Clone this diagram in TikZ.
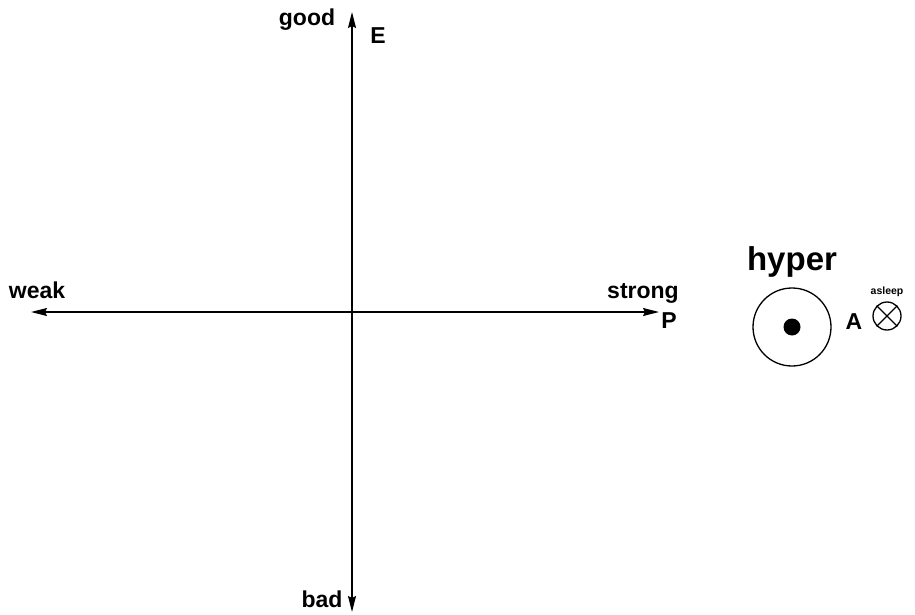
\documentclass[tikz,border=0pt]{standalone}
\usepackage{fontspec}
\setmainfont{Liberation Sans}
\usetikzlibrary{arrows.meta}
\begin{document}
\begin{tikzpicture}[x=1pt,y=-1pt,
  axis/.style={line width=1.4pt,-{Stealth[length=16pt,width=8pt,inset=2pt]}},
  lbl/.style={font=\fontsize{23}{26}\selectfont\bfseries,inner sep=0pt},
  big/.style={font=\fontsize{33}{38}\selectfont\bfseries,inner sep=0pt},
  tiny/.style={font=\fontsize{10.5}{12}\selectfont\bfseries,inner sep=0pt},
  ring/.style={draw,line width=1.3pt,circle}]
\useasboundingbox (0,0) rectangle (915,615);
\coordinate (o) at (352,312);
\coordinate (top) at (352,12);
\coordinate (bot) at (352,612);
\coordinate (lft) at (31,312);
\coordinate (rgt) at (659,312);
\draw[axis] (o) -- (top);
\draw[axis] (o) -- (bot);
\draw[axis] (o) -- (lft);
\draw[axis] (o) -- (rgt);
\node[lbl] (good) at (307,20) {good};
\node[lbl] (E) at (378,36) {E};
\node[lbl] (weak) at (37,290) {weak};
\node[lbl] (strong) at (643,293) {strong};
\node[lbl] (P) at (669,321) {P};
\node[lbl] (bad) at (322,599) {bad};
\node[big] (hyper) at (792,262) {hyper};
\node[ring,minimum size=78pt] (ring) at (792,327) {};
\node[circle,fill=black,minimum size=17pt,inner sep=0pt] (dot) at (792,327) {};
\node[lbl] (A) at (854,322) {A};
\node[ring,minimum size=28pt,inner sep=0pt] (asl) at (887,316) {};
\draw[line width=1.3pt] (asl.north west) -- (asl.south east);
\draw[line width=1.3pt] (asl.north east) -- (asl.south west);
\node[tiny] (asleeplbl) at (887,292) {asleep};
\end{tikzpicture}
\end{document}
